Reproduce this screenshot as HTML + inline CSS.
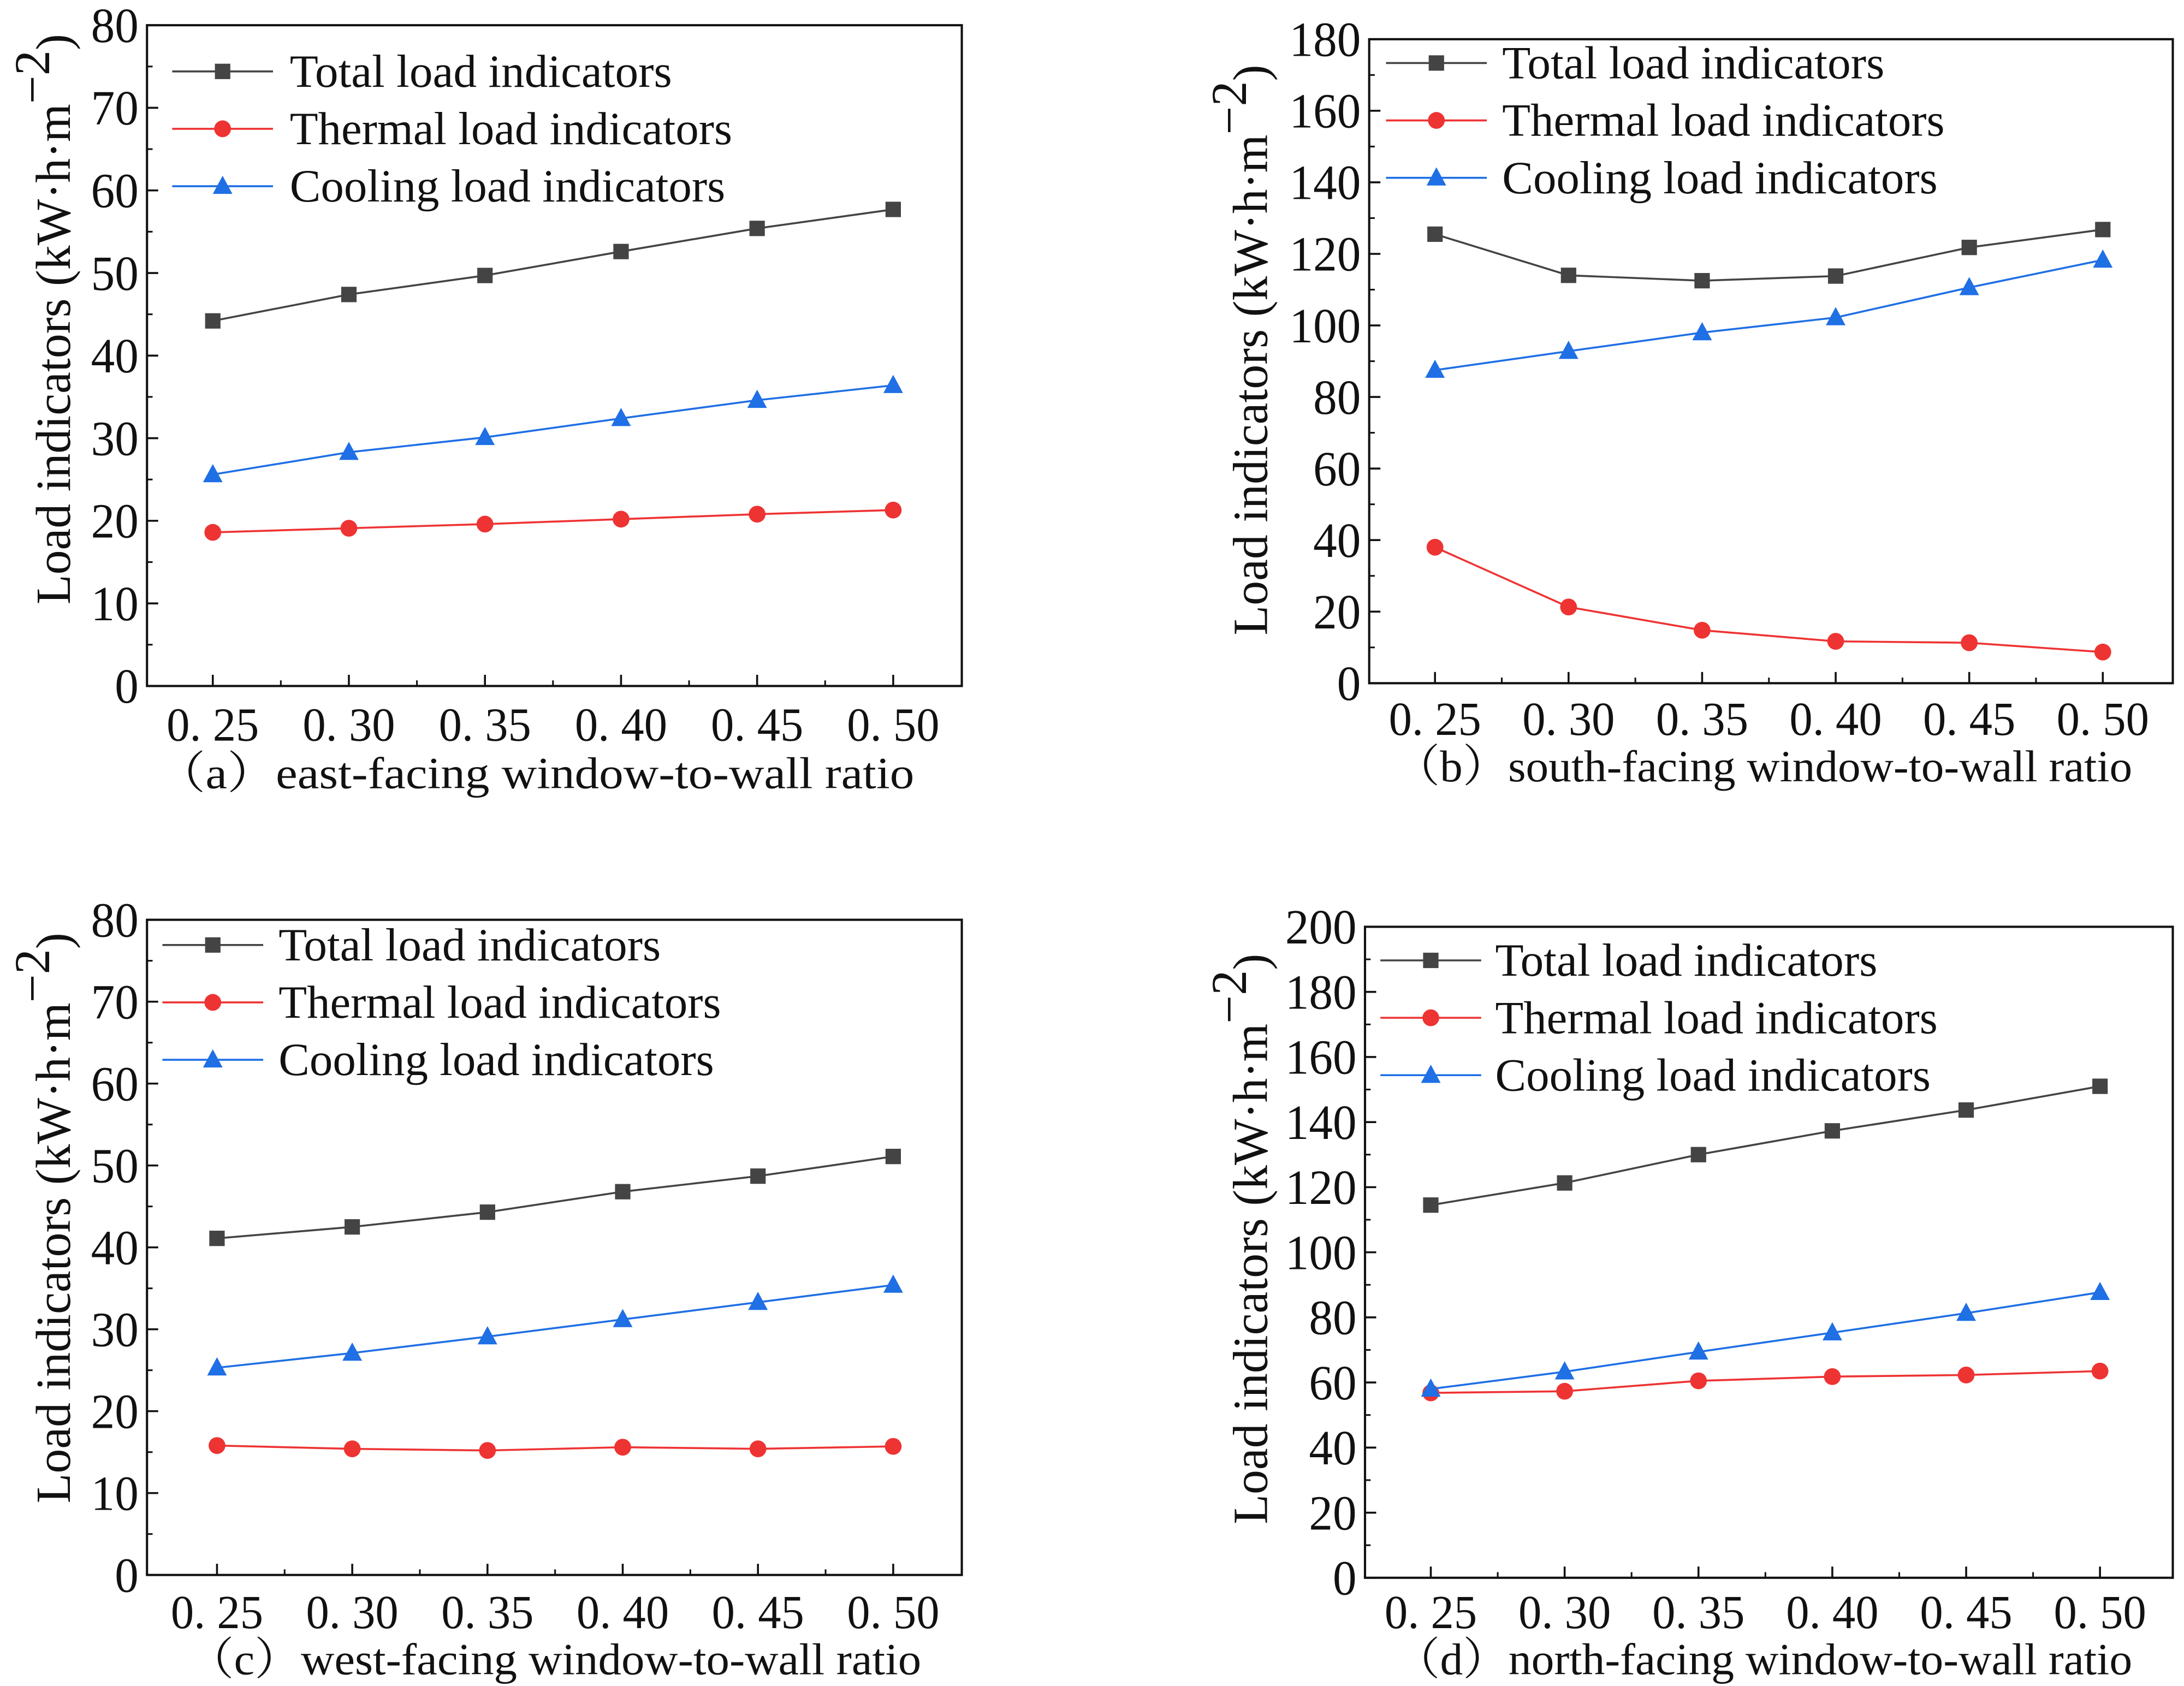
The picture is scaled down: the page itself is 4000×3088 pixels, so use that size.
<!DOCTYPE html>
<html><head><meta charset="utf-8"><style>
html,body{margin:0;padding:0;background:#fff}
svg{display:block}
text{font-family:"Liberation Serif","Noto Serif CJK SC",serif;fill:#111}
</style></head><body>
<svg id="fig" width="4000" height="3088" viewBox="0 0 1560 1204.3" xmlns="http://www.w3.org/2000/svg"></svg>
<script>
const categories = ["0. 25","0. 30","0. 35","0. 40","0. 45","0. 50"];
const seriesNames = ["Total load indicators","Thermal load indicators","Cooling load indicators"];
const aTotal = [44.2,47.4,49.7,52.6,55.4,57.7];
const aThermal = [18.6,19.1,19.6,20.2,20.8,21.3];
const aCooling = [25.6,28.3,30.1,32.4,34.6,36.4];
const bTotal = [125.5,114,112.5,113.8,121.8,126.8];
const bThermal = [38,21.3,14.8,11.7,11.3,8.7];
const bCooling = [87.5,92.8,98,102.2,110.6,118.3];
const cTotal = [41.1,42.5,44.3,46.8,48.7,51.1];
const cThermal = [15.8,15.4,15.2,15.6,15.4,15.7];
const cCooling = [25.3,27.1,29.1,31.2,33.3,35.4];
const dTotal = [114.5,121.3,130,137.3,143.7,151];
const dThermal = [56.8,57.3,60.5,61.8,62.3,63.5];
const dCooling = [58,63.3,69.4,75.3,81.3,87.7];
const aTicks = [0,10,20,30,40,50,60,70,80];
const bTicks = [0,20,40,60,80,100,120,140,160,180];
const cTicks = [0,10,20,30,40,50,60,70,80];
const dTicks = [0,20,40,60,80,100,120,140,160,180,200];
const xTitles = ["（a）east-facing window-to-wall ratio","（b）south-facing window-to-wall ratio","（c）west-facing window-to-wall ratio","（d）north-facing window-to-wall ratio"];

const colors = ["#444","#ee3333","#1f6fe5"];
const legLens = [273,316,311];
const NS = "http://www.w3.org/2000/svg";
const svg = document.getElementById("fig");
function mk(tag, attrs, parent){
  const e = document.createElementNS(NS, tag);
  for (const k in attrs) e.setAttribute(k, attrs[k]);
  (parent||svg).appendChild(e);
  return e;
}
const panels = [
  {id:"a", box:[105,18,687,490], x0:152, x1:638, ticks:aTicks, data:[aTotal,aThermal,aCooling], leg:[123,207,51], tl:517, xt:553, xtx:[112,653], yl:38, yc:228, title:xTitles[0]},
  {id:"b", box:[978,28,1552,488], x0:1025, x1:1502, ticks:bTicks, data:[bTotal,bThermal,bCooling], leg:[990,1073,45], tl:513, xt:548, xtx:[996,1523], yl:893, yc:250, title:xTitles[1]},
  {id:"c", box:[105,657,687,1125], x0:155, x1:638, ticks:cTicks, data:[cTotal,cThermal,cCooling], leg:[116,199,675], tl:1151, xt:1186, xtx:[134,658], yl:38, yc:870, title:xTitles[2]},
  {id:"d", box:[975,662,1552,1127], x0:1022, x1:1500, ticks:dTicks, data:[dTotal,dThermal,dCooling], leg:[986,1068,686], tl:1151, xt:1186, xtx:[996,1523], yl:893, yc:885, title:xTitles[3]}
];
panels.forEach(p=>{
  const g = mk("g",{});
  
  
  const [L,T,R,B] = p.box;
  const ymax = p.ticks[p.ticks.length-1], ymin = p.ticks[0];
  const ys = v => B - (v-ymin)/(ymax-ymin)*(B-T);
  const step = (p.x1-p.x0)/(categories.length-1);
  const xs = i => p.x0 + i*step;
  const frame = mk("rect",{x:L,y:T,width:R-L,height:B-T,fill:"none",stroke:"#111","stroke-width":1.6},g);
  
  
  p.ticks.forEach((t,i)=>{
    const y = ys(t);
    mk("line",{x1:L,x2:L+8,y1:y,y2:y,stroke:"#111","stroke-width":1.4},g);
    if(i<p.ticks.length-1){const ym=ys(t+(p.ticks[1]-p.ticks[0])/2);mk("line",{x1:L,x2:L+4,y1:ym,y2:ym,stroke:"#111","stroke-width":1.2},g);}
    const s = String(t);
    const tx = mk("text",{x:L-6,y:y+12,"text-anchor":"end","font-size":35,textLength:s.length*17,lengthAdjust:"spacingAndGlyphs"},g);
    tx.textContent = s;
    
    
  });
  categories.forEach((c,i)=>{
    const x = xs(i);
    mk("line",{x1:x,x2:x,y1:B,y2:B-8,stroke:"#111","stroke-width":1.4},g);
    if(i<categories.length-1) mk("line",{x1:x+step/2,x2:x+step/2,y1:B,y2:B-4,stroke:"#111","stroke-width":1.2},g);
    const tx = mk("text",{x:x-33,y:p.tl+12,"font-size":34,textLength:66,lengthAdjust:"spacingAndGlyphs"},g);
    tx.textContent = c;
    
    
  });
  const xt = mk("text",{x:p.xtx[0],y:p.xt+10,"font-size":32,textLength:p.xtx[1]-p.xtx[0],lengthAdjust:"spacingAndGlyphs"},g);
  xt.textContent = p.title;
  
  
  const yt = mk("text",{x:0,y:0,"text-anchor":"middle","font-size":35,transform:`translate(${p.yl+12},${p.yc}) rotate(-90)`},g);
  
  
  yt.innerHTML = 'Load indicators (kW·h·m<tspan dy="-15" font-size="36">−2</tspan><tspan dy="15">)</tspan>';
  p.data.forEach((vals,s)=>{
    const pts = vals.map((v,i)=>xs(i)+","+ys(v)).join(" ");
    const pl = mk("polyline",{points:pts,fill:"none",stroke:colors[s],"stroke-width":1.4},g);
    
    
    vals.forEach((v,i)=>drawMarker(g,s,xs(i),ys(v)));
    const ly = p.leg[2] + s*41;
    mk("line",{x1:p.leg[0],x2:p.leg[0]+72,y1:ly,y2:ly,stroke:colors[s],"stroke-width":1.4},g);
    drawMarker(g,s,p.leg[0]+36,ly);
    const lt = mk("text",{x:p.leg[1],y:ly+11,"font-size":33,textLength:legLens[s],lengthAdjust:"spacingAndGlyphs"},g);
    lt.textContent = seriesNames[s];
    
    
  });
});
function drawMarker(g,s,x,y){
  let m;
  if(s===0) m = mk("rect",{x:x-5.5,y:y-5.5,width:11,height:11,fill:colors[0]},g);
  else if(s===1) m = mk("circle",{cx:x,cy:y,r:6,fill:colors[1]},g);
  else m = mk("polygon",{points:`${x},${y-7.5} ${x-7},${y+5.5} ${x+7},${y+5.5}`,fill:colors[2]},g);
  
  
}
</script>
</body></html>
